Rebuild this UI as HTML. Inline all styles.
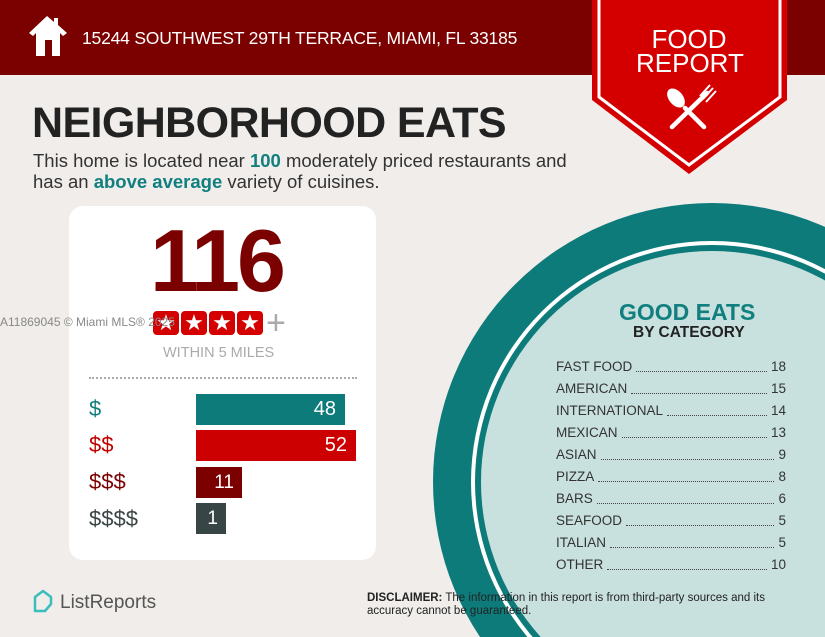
<!DOCTYPE html>
<html><head><meta charset="utf-8"><style>
*{margin:0;padding:0;box-sizing:border-box}
html,body{width:825px;height:637px;overflow:hidden}
body{background:#f0edea;font-family:"Liberation Sans",sans-serif;position:relative}
.abs{position:absolute}
</style></head><body>
<div class="abs" style="left:0;top:0;width:825px;height:75px;background:#7b0000"></div>
<svg class="abs" style="left:0;top:0;display:block" width="825" height="637">
  <path d="M47 16 L29 33 L33 36 L36 33 L36 56 L45 56 L45 40 L52 40 L52 56 L60 56 L60 33 L63 36 L67 33 L58 25 L58 18 L54 18 L54 22 Z" fill="#fff"/>
  <circle cx="712" cy="482" r="279" fill="#0e7b7b"/>
  <circle cx="712" cy="482" r="241" fill="#fff"/>
  <circle cx="712" cy="482" r="237" fill="#0e7b7b"/>
  <circle cx="712" cy="482" r="231" fill="#c8e1de"/>
  <path d="M592 0 L787 0 L787 100 L689 174 L592 100 Z" fill="#d40000"/>
  <path d="M599 0 L599 97 L689 165 L780 97 L780 0" fill="none" stroke="#fff" stroke-width="3"/>
  <g stroke="#fff" stroke-width="4.5" stroke-linecap="round">
    <line x1="672" y1="127" x2="707" y2="93"/>
    <line x1="704" y1="127" x2="685" y2="108"/>
  </g>
  <ellipse cx="676" cy="98" rx="7" ry="11" transform="rotate(-40 676 98)" fill="#fff"/>
  <path d="M700 96 L710 85 M703 99 L713 88 M706 102 L716 91" stroke="#fff" stroke-width="2"/>
  <path d="M35 604 L35 597 L43 591 L51 597 L51 604 L45 611 L35 611 Z" fill="none" stroke="#3bbdbd" stroke-width="2.5" stroke-linejoin="round"/>
</svg>
<div class="abs" style="left:82px;top:28px;color:#fff;font-size:17.5px;letter-spacing:-0.2px">15244 SOUTHWEST 29TH TERRACE, MIAMI, FL 33185</div>
<div class="abs" style="left:636px;top:27px;width:106px;text-align:center;color:#fff;font-size:26px;line-height:24px">FOOD<br>REPORT</div>
<div class="abs" style="left:32px;top:99px;color:#222;font-size:43px;font-weight:bold;letter-spacing:-0.6px">NEIGHBORHOOD EATS</div>
<div class="abs" style="left:33px;top:150px;color:#333;font-size:18.5px;line-height:21px">This home is located near <b style="color:#117f7f">100</b> moderately priced restaurants and<br>has an <b style="color:#117f7f">above average</b> variety of cuisines.</div>
<div class="abs" style="left:69px;top:206px;width:307px;height:354px;background:#fff;border-radius:14px"></div>
<div class="abs" style="left:150px;top:210px;color:#7b0000;font-size:88px;font-weight:bold;letter-spacing:-3px">116</div>
<div class="abs" style="left:153px;top:311px;display:flex;gap:2px">
  <span style="width:26px;height:24px;background:#d40000;border-radius:4px;color:#fff;font-size:22px;line-height:24px;text-align:center">★</span>
  <span style="width:26px;height:24px;background:#d40000;border-radius:4px;color:#fff;font-size:22px;line-height:24px;text-align:center">★</span>
  <span style="width:26px;height:24px;background:#d40000;border-radius:4px;color:#fff;font-size:22px;line-height:24px;text-align:center">★</span>
  <span style="width:26px;height:24px;background:#d40000;border-radius:4px;color:#fff;font-size:22px;line-height:24px;text-align:center">★</span>
</div>
<div class="abs" style="left:266px;top:304px;color:#aaa;font-size:34px;font-weight:300">+</div>
<div class="abs" style="left:0;top:315px;color:#888;font-size:12px">A11869045 © Miami MLS® 2025</div>
<div class="abs" style="left:163px;top:345px;color:#aaa;font-size:14.5px">WITHIN 5 MILES</div>
<div class="abs" style="left:89px;top:377px;width:268px;border-top:2px dotted #aaa"></div>
<div class="abs" style="left:89px;top:396px;color:#117f7f;font-size:22px">$</div>
<div class="abs" style="left:89px;top:432px;color:#c00000;font-size:22px">$$</div>
<div class="abs" style="left:89px;top:469px;color:#7b0000;font-size:22px">$$$</div>
<div class="abs" style="left:89px;top:506px;color:#3a4444;font-size:22px">$$$$</div>
<div class="abs" style="left:196px;top:394px;width:149px;height:31px;background:#0e7b7b;color:#fff;font-size:20px;text-align:right;padding-right:9px;line-height:31px">48</div>
<div class="abs" style="left:196px;top:430px;width:160px;height:31px;background:#cc0000;color:#fff;font-size:20px;text-align:right;padding-right:9px;line-height:31px">52</div>
<div class="abs" style="left:196px;top:467px;width:46px;height:31px;background:#7b0000;color:#fff;font-size:19px;text-align:right;padding-right:8px;line-height:31px">11</div>
<div class="abs" style="left:196px;top:503px;width:30px;height:31px;background:#384545;color:#fff;font-size:19px;text-align:right;padding-right:8px;line-height:31px">1</div>
<div class="abs" style="left:619px;top:299px;color:#117f7f;font-size:23px;font-weight:bold">GOOD EATS</div>
<div class="abs" style="left:633px;top:324px;color:#222;font-size:15.5px;font-weight:bold">BY CATEGORY</div>
<div class="abs" style="left:556px;top:356px;width:230px;color:#333;font-size:13.5px;line-height:22px">
<div style="display:flex"><span>FAST FOOD</span><span style="flex:1;border-bottom:1px dotted #444;margin:0 4px 6px"></span><span>18</span></div>
<div style="display:flex"><span>AMERICAN</span><span style="flex:1;border-bottom:1px dotted #444;margin:0 4px 6px"></span><span>15</span></div>
<div style="display:flex"><span>INTERNATIONAL</span><span style="flex:1;border-bottom:1px dotted #444;margin:0 4px 6px"></span><span>14</span></div>
<div style="display:flex"><span>MEXICAN</span><span style="flex:1;border-bottom:1px dotted #444;margin:0 4px 6px"></span><span>13</span></div>
<div style="display:flex"><span>ASIAN</span><span style="flex:1;border-bottom:1px dotted #444;margin:0 4px 6px"></span><span>9</span></div>
<div style="display:flex"><span>PIZZA</span><span style="flex:1;border-bottom:1px dotted #444;margin:0 4px 6px"></span><span>8</span></div>
<div style="display:flex"><span>BARS</span><span style="flex:1;border-bottom:1px dotted #444;margin:0 4px 6px"></span><span>6</span></div>
<div style="display:flex"><span>SEAFOOD</span><span style="flex:1;border-bottom:1px dotted #444;margin:0 4px 6px"></span><span>5</span></div>
<div style="display:flex"><span>ITALIAN</span><span style="flex:1;border-bottom:1px dotted #444;margin:0 4px 6px"></span><span>5</span></div>
<div style="display:flex"><span>OTHER</span><span style="flex:1;border-bottom:1px dotted #444;margin:0 4px 6px"></span><span>10</span></div>
</div>
<div class="abs" style="left:60px;top:592px;color:#555;font-size:19px">ListReports</div>
<div class="abs" style="left:367px;top:592px;color:#222;font-size:11.5px;line-height:13px"><b>DISCLAIMER:</b> The information in this report is from third-party sources and its<br>accuracy cannot be guaranteed.</div>
</body></html>
